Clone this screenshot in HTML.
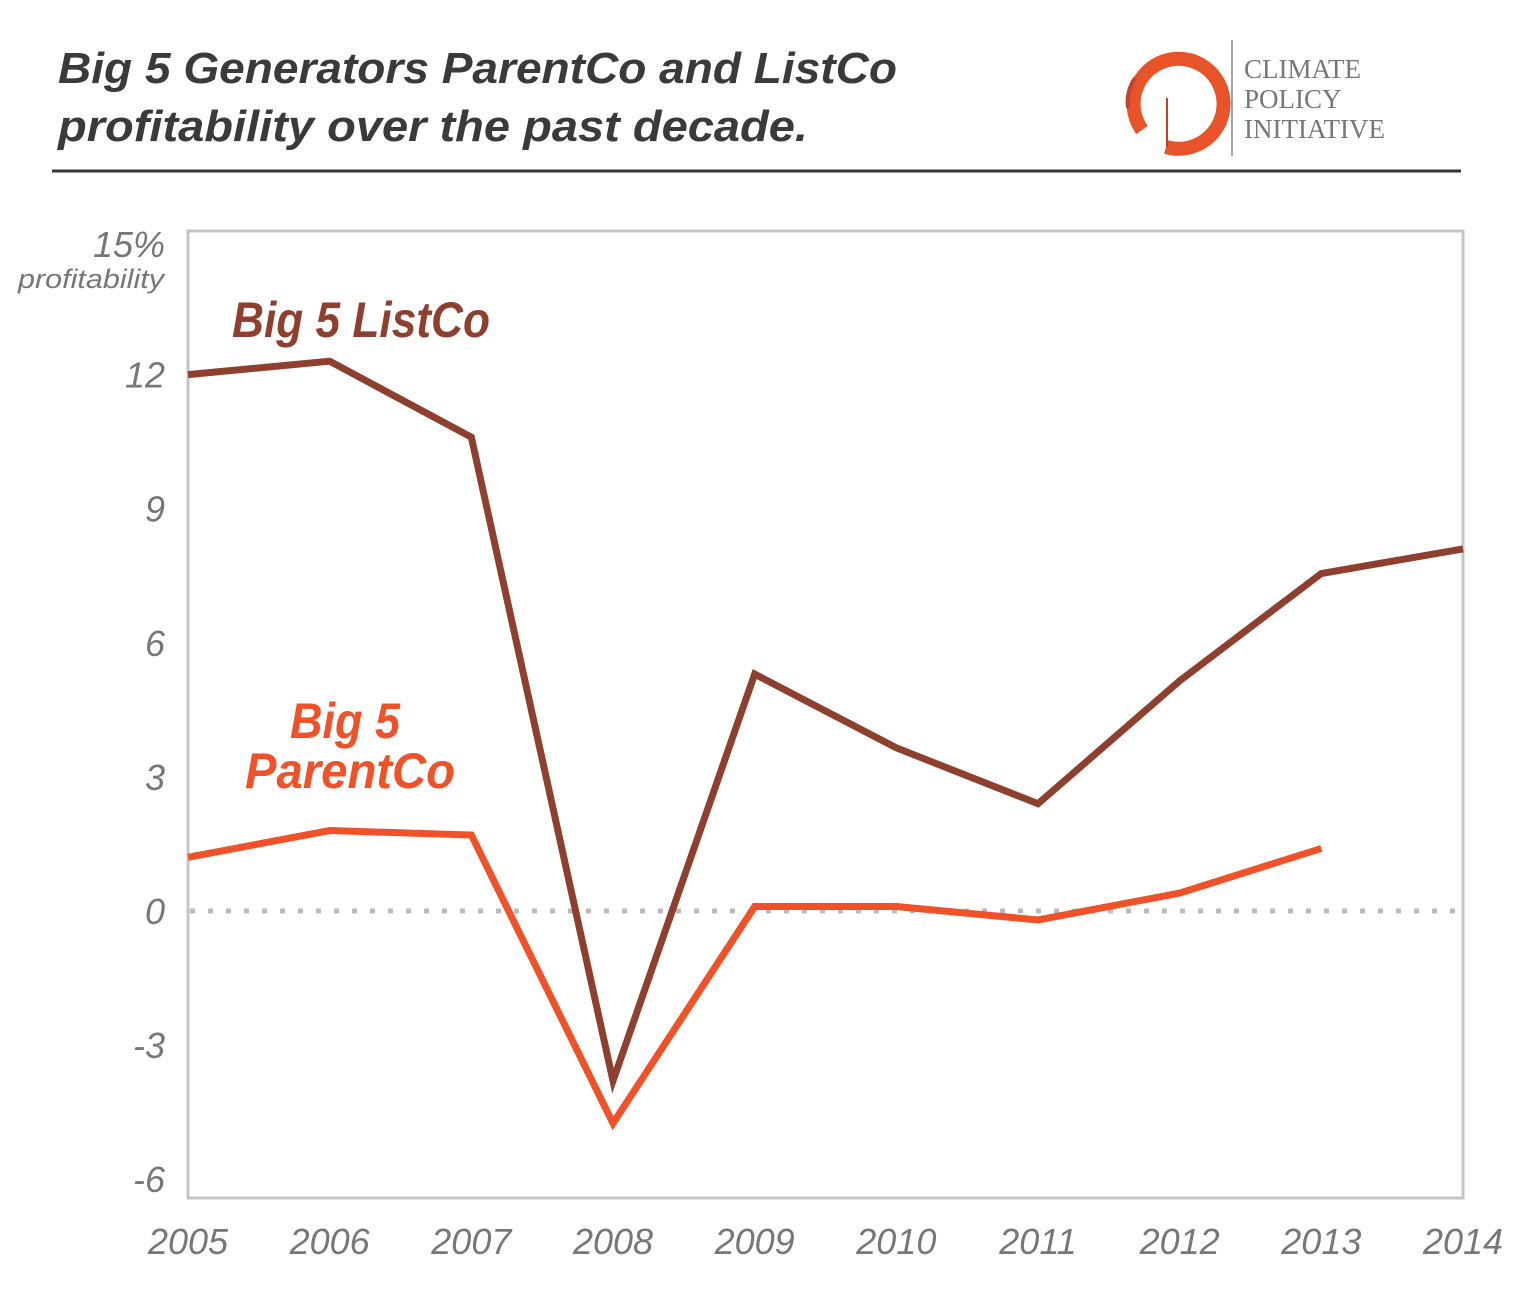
<!DOCTYPE html>
<html><head><meta charset="utf-8"><style>
body{margin:0;background:#fff;}
svg{display:block;}
</style></head><body>
<svg width="1536" height="1289" viewBox="0 0 1536 1289" xmlns="http://www.w3.org/2000/svg" id="chart">
<text x="58" y="83" font-family="Liberation Sans, sans-serif" font-size="44" font-weight="bold" font-style="italic" fill="#3a3a3a" textLength="839" lengthAdjust="spacingAndGlyphs">Big 5 Generators ParentCo and ListCo</text>
<text x="58" y="141" font-family="Liberation Sans, sans-serif" font-size="44" font-weight="bold" font-style="italic" fill="#3a3a3a" textLength="750" lengthAdjust="spacingAndGlyphs">profitability over the past decade.</text>
<line x1="52" y1="171" x2="1461" y2="171" stroke="#333" stroke-width="3"/>
<g>
<path d="M1142 130 A45 45 0 1 1 1166 147" fill="none" stroke="#e8532a" stroke-width="14"/>
<path d="M1128 108 A44 44 0 0 1 1135 78" fill="none" stroke="#c0442a" stroke-width="4"/>
<line x1="1167" y1="98" x2="1167" y2="147" stroke="#c0442a" stroke-width="2"/>
<line x1="1232" y1="40" x2="1232" y2="156" stroke="#888" stroke-width="1.5"/>
<text x="1244" y="78" font-family="Liberation Serif, serif" font-size="27" fill="#777">CLIMATE</text>
<text x="1244" y="108" font-family="Liberation Serif, serif" font-size="27" fill="#777">POLICY</text>
<text x="1244" y="138" font-family="Liberation Serif, serif" font-size="27" fill="#777">INITIATIVE</text>
</g>
<rect x="188" y="231" width="1275" height="967" fill="none" stroke="#c4c4c4" stroke-width="3"/>
<g id="axes"></g>
<g id="series"></g>
<text x="232" y="337" font-family="Liberation Sans, sans-serif" font-size="50" font-weight="bold" font-style="italic" fill="#8e3f2e" textLength="258" lengthAdjust="spacingAndGlyphs">Big 5 ListCo</text>
<text x="290" y="738" font-family="Liberation Sans, sans-serif" font-size="50" font-weight="bold" font-style="italic" fill="#ef5128" textLength="110" lengthAdjust="spacingAndGlyphs">Big 5</text>
<text x="245" y="788" font-family="Liberation Sans, sans-serif" font-size="50" font-weight="bold" font-style="italic" fill="#ef5128" textLength="210" lengthAdjust="spacingAndGlyphs">ParentCo</text>
<text x="165" y="257" text-anchor="end" font-family="Liberation Sans, sans-serif" font-size="36" font-style="italic" fill="#777">15%</text>
<text x="18" y="288" font-family="Liberation Sans, sans-serif" font-size="27" font-style="italic" fill="#777" textLength="146" lengthAdjust="spacingAndGlyphs">profitability</text>
</svg>
<script>
const years = [2005,2006,2007,2008,2009,2010,2011,2012,2013,2014];
const listco = [12.0,12.3,10.6,-3.8,5.3,3.65,2.4,5.15,7.55,8.1];
const parentco = [1.2,1.8,1.7,-4.75,0.1,0.1,-0.2,0.4,1.4];
const yTicks = [12,9,6,3,0,-3,-6];
const NS='http://www.w3.org/2000/svg';
function xs(i){return 188 + i*(1463-188)/(years.length-1);}
function ys(v){return 911 - v*44.7;}
const axes=document.getElementById('axes'), series=document.getElementById('series');
function mk(tag,attrs,parent){const e=document.createElementNS(NS,tag);for(const k in attrs)e.setAttribute(k,attrs[k]);parent.appendChild(e);return e;}
yTicks.forEach(t=>{
  const e=mk('text',{x:165,y:ys(t)+13,'text-anchor':'end','font-family':'Liberation Sans, sans-serif','font-size':36,'font-style':'italic',fill:'#777'},axes);
  e.textContent=t;
  
  
});
years.forEach((y,i)=>{
  const e=mk('text',{x:xs(i),y:1254,'text-anchor':'middle','font-family':'Liberation Sans, sans-serif','font-size':36,'font-style':'italic',fill:'#777'},axes);
  e.textContent=y;
  
  
});
const zl=mk('line',{x1:190,x2:1461,y1:ys(0),y2:ys(0),stroke:'#bbb','stroke-width':5,'stroke-dasharray':'5 13'},axes);


function line(vals,color){
  return mk('polyline',{points:vals.map((v,i)=>xs(i)+','+ys(v)).join(' '),fill:'none',stroke:color,'stroke-width':7,'stroke-linejoin':'miter'},series);
}
const l1=line(listco,'#8e3f2e');


const l2=line(parentco,'#ef5128');


</script>
</body></html>
